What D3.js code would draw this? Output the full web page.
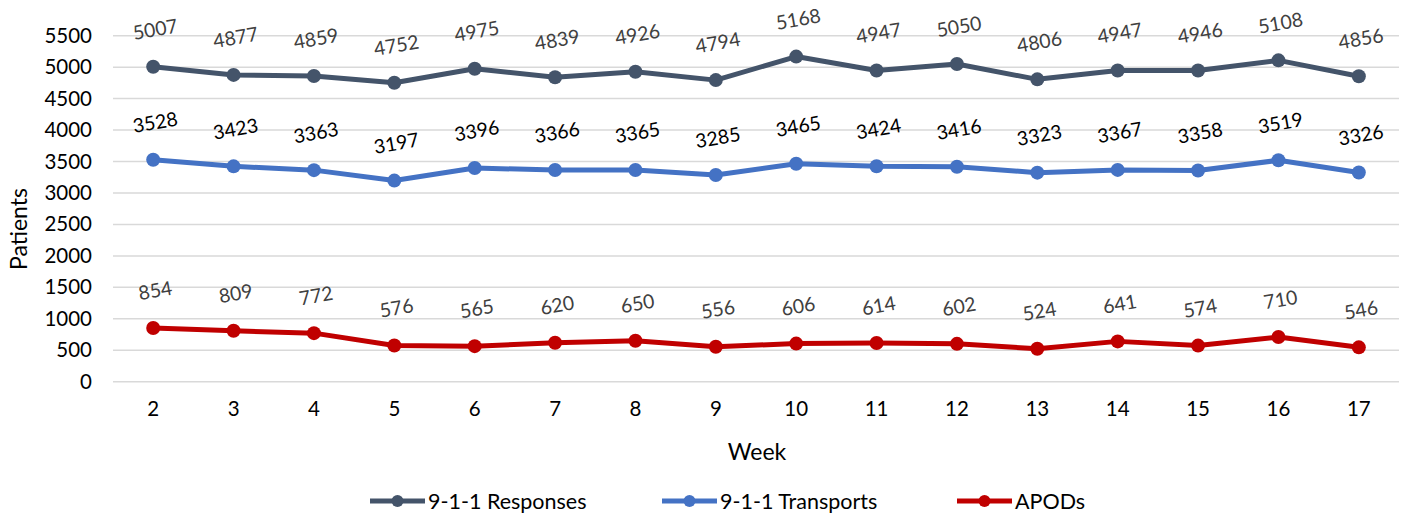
<!DOCTYPE html>
<html><head><meta charset="utf-8">
<script src="https://cdn.jsdelivr.net/npm/d3@7/dist/d3.min.js"></script>
<style>body{margin:0;background:#fff}svg{display:block}text{font-family:Lato,"Open Sans",sans-serif}</style>
</head><body><svg id="c" width="1406" height="517"></svg>
<script>
const weeks = [2,3,4,5,6,7,8,9,10,11,12,13,14,15,16,17];
const responses = [5007,4877,4859,4752,4975,4839,4926,4794,5168,4947,5050,4806,4947,4946,5108,4856];
const transports = [3528,3423,3363,3197,3396,3366,3365,3285,3465,3424,3416,3323,3367,3358,3519,3326];
const apods = [854,809,772,576,565,620,650,556,606,614,602,524,641,574,710,546];
const yTicks = [0,500,1000,1500,2000,2500,3000,3500,4000,4500,5000,5500];
const seriesNames = ["9-1-1 Responses","9-1-1 Transports","APODs"];
const seriesColors = ["#44546A","#4472C4","#C00000"];
const labelColors = ["#404040","#000000","#404040"];

(function(){
const svg = d3.select("#c");
const pL = 113, pR = 1399, pT = 35.7, pB = 381.7;
const x = d3.scaleBand().domain(weeks).range([pL, pR]);
const y = d3.scaleLinear().domain([0,5500]).range([pB, pT]);

svg.append("g").selectAll("line").data(yTicks).join("line")
  .attr("x1", pL).attr("x2", pR)
  .attr("y1", d=>y(d)).attr("y2", d=>y(d))
  .attr("stroke", "#d9d9d9").attr("stroke-width", 1.5);

const ya = svg.append("g").attr("transform", `translate(${pL},0)`)
  .call(d3.axisLeft(y).tickValues(yTicks).tickSize(0).tickPadding(21).tickFormat(d3.format("d")));
ya.select(".domain").remove();
ya.selectAll("text").attr("font-size", 20.5).attr("fill", "#000").style("font-family","Lato");

const xa = svg.append("g").attr("transform", `translate(0,${pB})`)
  .call(d3.axisBottom(x).tickSize(0).tickPadding(20));
xa.select(".domain").remove();
xa.selectAll("text").attr("font-size", 20.5).attr("fill", "#000").style("font-family","Lato");

svg.append("text").attr("x", 757).attr("y", 451).attr("text-anchor","middle")
  .attr("dominant-baseline","central").attr("font-size", 23).text("Week");
svg.append("text").attr("transform","translate(18,229) rotate(-90)").attr("text-anchor","middle")
  .attr("dominant-baseline","central").attr("font-size", 23).text("Patients");

const data = [responses, transports, apods];
const cx = d => x(d) + x.bandwidth()/2;
const line = d3.line().x((d,i)=>cx(weeks[i])).y(d=>y(d));

data.forEach((vals, s) => {
  const g = svg.append("g");
  g.append("path").datum(vals).attr("d", line).attr("fill","none")
    .attr("stroke", seriesColors[s]).attr("stroke-width", 5).attr("stroke-linejoin","round");
  g.selectAll("circle").data(vals).join("circle")
    .attr("cx", (d,i)=>cx(weeks[i])).attr("cy", d=>y(d)).attr("r", 7)
    .attr("fill", seriesColors[s]);
  g.selectAll("text").data(vals).join("text")
    .attr("transform", (d,i)=>`translate(${cx(weeks[i])+2},${y(d)-38}) rotate(-10)`)
    .attr("text-anchor","middle").attr("dominant-baseline","central")
    .attr("font-size", 19.5).attr("fill", labelColors[s]).text(d=>d);
});

const legX = [370, 662, 957];
const lg = svg.append("g");
seriesNames.forEach((n, s) => {
  const g = lg.append("g").attr("transform", `translate(${legX[s]},501)`);
  g.append("line").attr("x1",0).attr("x2",55).attr("stroke",seriesColors[s]).attr("stroke-width",5);
  g.append("circle").attr("cx",27.5).attr("r",6).attr("fill",seriesColors[s]);
  g.append("text").attr("x",58).attr("dominant-baseline","central").attr("font-size",21.5).attr("fill","#000").text(n);
});
})();
</script></body></html>
